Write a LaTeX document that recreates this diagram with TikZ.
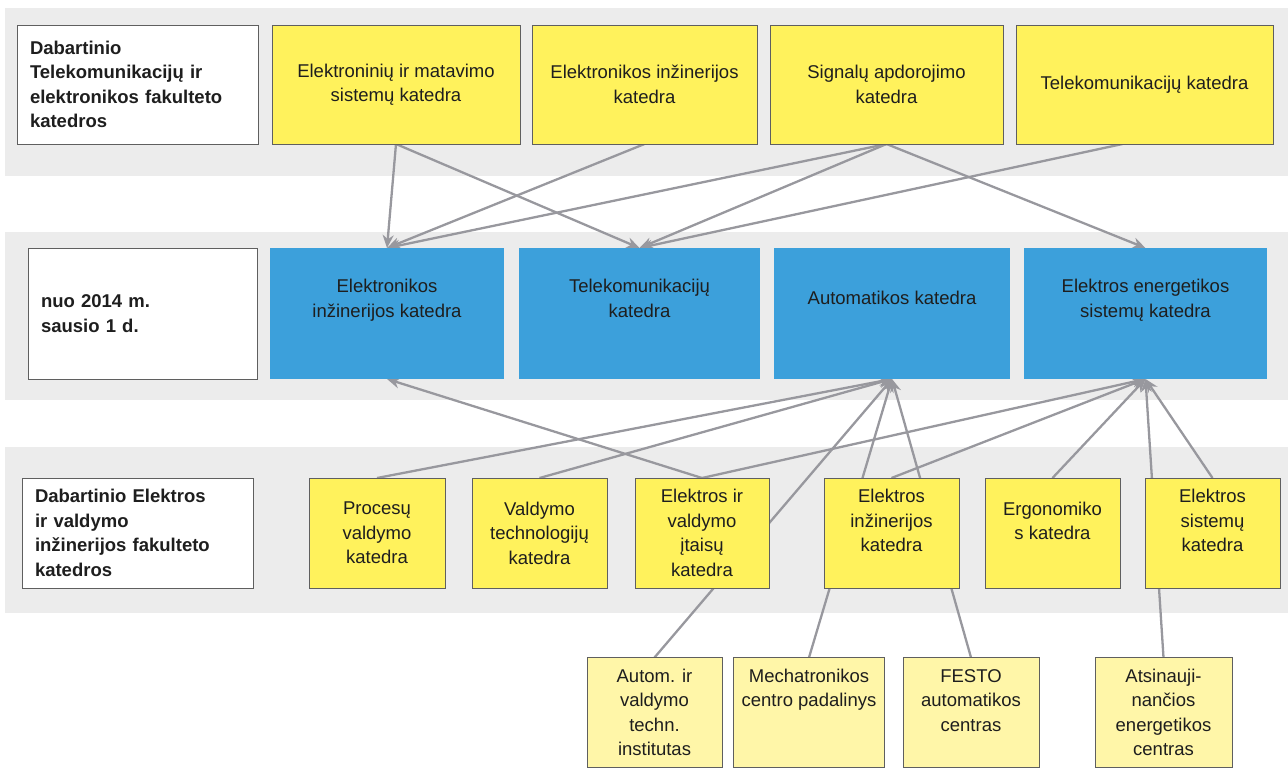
\documentclass[tikz,border=0pt]{standalone}
\usepackage{fontspec}
\setmainfont{Liberation Sans}
\usetikzlibrary{arrows.meta,backgrounds}

\definecolor{bandgray}{RGB}{236,236,236}
\definecolor{katyellow}{RGB}{255,242,92}
\definecolor{paleyellow}{RGB}{255,246,168}
\definecolor{katblue}{RGB}{60,160,219}
\definecolor{linegray}{RGB}{152,152,158}
\definecolor{edgegray}{RGB}{95,95,95}
\definecolor{inkgray}{RGB}{30,30,30}

\begin{document}
\begin{tikzpicture}[
  x=1pt, y=-1pt,
  every node/.style={inner sep=0pt, outer sep=0pt, text=inkgray,
    font=\fontsize{18.5}{24.5}\selectfont},
  rowlabel/.style={draw=edgegray, line width=0.9pt, fill=white, align=left,
    text width=#1-26pt, inner xsep=13pt, font=\bfseries\fontsize{18.5}{24.5}\selectfont},
  oldkat/.style={draw=edgegray, line width=0.9pt, fill=katyellow, align=center},
  newkat/.style={fill=katblue, align=center},
  unit/.style={draw=edgegray, line width=0.9pt, fill=paleyellow, align=center},
  conn/.style={draw=linegray, line width=2.3pt, -{Stealth[length=13pt,width=11pt]}}
]
\useasboundingbox (0,0) rectangle (1288,769);

% top row: old faculty departments
\node[rowlabel=241, minimum height=119] (lab1) at (137.5,84.5)
  {Dabartinio\\Telekomunikacijų ir\\elektronikos fakulteto\\katedros};
\node[oldkat, minimum width=248, minimum height=119] (e1) at (396,84.5)
  {Elektroninių ir matavimo\\sistemų katedra};
\node[oldkat, minimum width=225, minimum height=119] (e2) at (644.5,84.5)
  {Elektronikos inžinerijos\\katedra};
\node[oldkat, minimum width=233, minimum height=119] (e3) at (886.5,84.5)
  {Signalų apdorojimo\\katedra};
\node[oldkat, minimum width=257, minimum height=119] (e4) at (1144.5,84.5)
  {Telekomunikacijų katedra};

% middle row: new departments
\node[rowlabel=229, minimum height=131] (lab2) at (142.5,313.5)
  {nuo 2014 m.\\sausio 1 d.};
\node[newkat, minimum width=234, minimum height=131] (m1) at (387,313.5)
  {Elektronikos\\inžinerijos katedra\\[6pt]};
\node[newkat, minimum width=241, minimum height=131] (m2) at (639.5,313.5)
  {Telekomunikacijų\\katedra\\[6pt]};
\node[newkat, minimum width=236, minimum height=131] (m3) at (892,313.5)
  {Automatikos katedra\\[6pt]};
\node[newkat, minimum width=243, minimum height=131] (m4) at (1145.5,313.5)
  {Elektros energetikos\\sistemų katedra\\[6pt]};

% bottom row
\node[rowlabel=231, minimum height=110] (lab3) at (137.5,533)
  {Dabartinio Elektros\\ir valdymo\\inžinerijos fakulteto\\katedros};
\node[oldkat, minimum width=136, minimum height=110] (b1) at (377,533)
  {Procesų\\valdymo\\katedra};
\node[oldkat, minimum width=135, minimum height=110] (b2) at (539.5,533)
  {Valdymo\\technologijų\\katedra};
\node[oldkat, minimum width=134, minimum height=110] (b3) at (702,533)
  {Elektros ir\\valdymo\\įtaisų\\katedra};
\node[oldkat, minimum width=135, minimum height=110] (b4) at (891.5,533)
  {Elektros\\inžinerijos\\katedra\\\mbox{}};
\node[oldkat, minimum width=135, minimum height=110] (b5) at (1052.5,533)
  {Ergonomiko\\s katedra\\\mbox{}};
\node[oldkat, minimum width=135, minimum height=110] (b6) at (1212.5,533)
  {Elektros\\sistemų\\katedra\\\mbox{}};

% units below
\node[unit, minimum width=135, minimum height=110] (c1) at (654.5,712.5)
  {Autom. ir\\valdymo\\techn.\\institutas};
\node[unit, minimum width=151, minimum height=110] (c2) at (809,712.5)
  {Mechatronikos\\centro padalinys\\\mbox{}\\\mbox{}};
\node[unit, minimum width=136, minimum height=110] (c3) at (971,712.5)
  {FESTO\\automatikos\\centras\\\mbox{}};
\node[unit, minimum width=137, minimum height=110] (c4) at (1163.5,712.5)
  {Atsinauji-\\nančios\\energetikos\\centras};

\begin{scope}[on background layer]
% gray bands behind each row
\foreach \top/\bot in {8/176, 232/400, 447/613}
  \fill[bandgray] (5,\top) rectangle (1288,\bot);

% top -> middle
\foreach \from/\to in {e1/m1, e1/m2, e2/m1, e3/m1, e3/m2, e3/m4}
  \draw[conn] (\from.south) -- (\to.north);
\draw[conn] ([xshift=-22pt]e4.south) -- (m2.north);

% bottom -> middle (lines from units run behind the boxes)
\foreach \from/\to in {b1/m3, b2/m3, b3/m1, b3/m4, b4/m4, b5/m4, b6/m4,
                       c1/m3, c2/m3, c3/m3, c4/m4}
  \draw[conn] (\from.north) -- (\to.south);
\end{scope}

\end{tikzpicture}
\end{document}
